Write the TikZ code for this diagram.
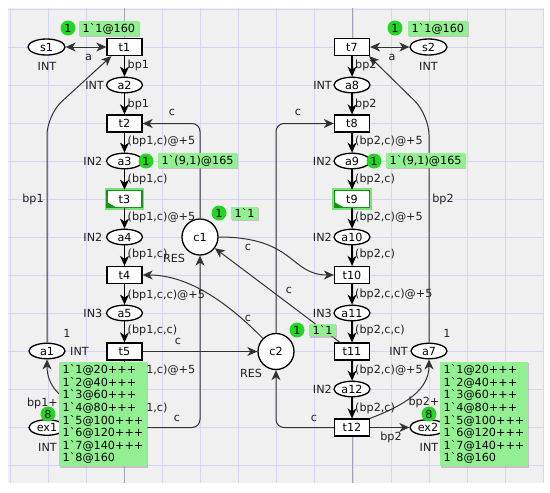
\documentclass[tikz,border=0pt]{standalone}
\usetikzlibrary{arrows.meta,shapes.geometric,shadows}
\font\cpnf="DejaVu Sans" at 11.2pt
\definecolor{bggray}{RGB}{240,240,240}
\definecolor{gridc}{RGB}{214,214,242}
\definecolor{pagec}{RGB}{165,165,185}
\definecolor{tokg}{RGB}{36,214,36}
\definecolor{labg}{RGB}{146,240,146}
\definecolor{arcc}{RGB}{50,50,50}
\definecolor{glowg}{RGB}{120,225,120}
\definecolor{enab}{RGB}{20,150,20}
\tikzset{
 cpnplace/.style={ellipse, draw=black, fill=white, line width=1.3pt, minimum width=36pt, minimum height=15.5pt, inner sep=0pt, font=\cpnf},
 cpntrans/.style={rectangle, draw=black, fill=white, line width=1.3pt, minimum width=35pt, minimum height=17pt, inner sep=0pt, font=\cpnf},
 cpnenab/.style={cpntrans, draw=enab, line width=1.6pt, preaction={draw=glowg, line width=4.5pt}},
 cpnres/.style={circle, draw=black, fill=white, line width=1.3pt, minimum size=36pt, inner sep=0pt, font=\cpnf},
 cpnarc/.style={draw=arcc, line width=1pt, -{Stealth[length=10pt,width=9pt,inset=3pt]}},
 cpncol/.style={cpnarc, draw=black, line width=1.3pt},
 cpnboth/.style={cpnarc, {Stealth[length=10pt,width=9pt,inset=3pt]}-{Stealth[length=10pt,width=9pt,inset=3pt]}},
 cpnlbl/.style={font=\cpnf, inner sep=0pt, text=black!88},
 cpntok/.style={circle, fill=tokg, minimum size=15pt, inner sep=0pt, font=\cpnf},
 cpnmark/.style={fill=labg, inner xsep=3.5pt, inner ysep=2pt, font=\cpnf, drop shadow={shadow xshift=1.2pt, shadow yshift=-1.2pt, fill=black!40, opacity=0.5}},
}
\begin{document}
\begin{tikzpicture}[x=1pt,y=-1pt]
\useasboundingbox (0,0) rectangle (550,493);
\fill[white] (0,0) rectangle (550,493);
\fill[bggray] (8,8) rectangle (543,483);
\foreach \k in {0,...,14} {\draw[gridc,line width=0.7pt] ({10+38.1*\k},8) -- ({10+38.1*\k},483);}
\foreach \k in {0,...,12} {\draw[gridc,line width=0.7pt] (8,{9+38*\k}) -- (543,{9+38*\k});}
\draw[pagec,line width=0.7pt] (124.5,8) -- (124.5,483);
\draw[pagec,line width=0.7pt] (352,8) -- (352,483);

% left column
\node[cpnplace, minimum width=37pt, minimum height=16pt] (s1) at (46.5,47) {s1};
\node[cpntrans] (t1) at (124.5,47) {t1};
\node[cpnplace] (a2) at (124.5,85) {a2};
\node[cpntrans] (t2) at (124.5,123.5) {t2};
\node[cpnplace] (a3) at (124.5,161) {a3};
\node[cpnenab] (t3) at (124.5,199) {t3};
\node[cpnplace] (a4) at (124.5,237) {a4};
\node[cpntrans] (t4) at (124.5,275) {t4};
\node[cpnplace] (a5) at (124.5,313) {a5};
\node[cpntrans] (t5) at (124.5,351.5) {t5};
\node[cpnplace] (a6) at (124.5,389) {};
\node[cpntrans] (t6) at (124.5,427.5) {};
\node[cpnplace] (a1) at (47,351) {a1};
\node[cpnplace] (ex1) at (47,427.5) {ex1};
% resources
\node[cpnres] (c1) at (200,237) {c1};
\node[cpnres] (c2) at (276,351.5) {c2};
% right column
\node[cpntrans] (t7) at (352,47) {t7};
\node[cpnplace, minimum width=37pt, minimum height=16pt] (s2) at (428.5,47) {s2};
\node[cpnplace] (a8) at (352,85) {a8};
\node[cpntrans] (t8) at (352,123.5) {t8};
\node[cpnplace] (a9) at (352,161) {a9};
\node[cpnenab] (t9) at (352,199) {t9};
\node[cpnplace] (a10) at (352,237) {a10};
\node[cpntrans] (t10) at (352,275) {t10};
\node[cpnplace] (a11) at (352,313) {a11};
\node[cpntrans] (t11) at (352,351.5) {t11};
\node[cpnplace] (a12) at (352,389) {a12};
\node[cpntrans] (t12) at (352,427.5) {t12};
\node[cpnplace] (a7) at (429,351) {a7};
\node[cpnplace] (ex2) at (428,427.5) {ex2};

% enabled marks
\fill[enab] ([shift={(1pt,1pt)}]t3.south west) -- ++(9pt,0pt) -- ++(-9pt,5pt) -- cycle;
\fill[enab] ([shift={(1pt,1pt)}]t9.south west) -- ++(9pt,0pt) -- ++(-9pt,5pt) -- cycle;

% column arcs
\draw[cpnboth] (s1) -- (t1);
\draw[cpncol] (t1) -- (a2);
\draw[cpncol] (a2) -- (t2);
\draw[cpncol] (t2) -- (a3);
\draw[cpncol] (a3) -- (t3);
\draw[cpncol] (t3) -- (a4);
\draw[cpncol] (a4) -- (t4);
\draw[cpncol] (t4) -- (a5);
\draw[cpncol] (a5) -- (t5);
\draw[cpncol] (t5) -- (a6);
\draw[cpncol] (a6) -- (t6);
\draw[cpnboth] (s2) -- (t7);
\draw[cpncol] (t7) -- (a8);
\draw[cpncol] (a8) -- (t8);
\draw[cpncol] (t8) -- (a9);
\draw[cpncol] (a9) -- (t9);
\draw[cpncol] (t9) -- (a10);
\draw[cpncol] (a10) -- (t10);
\draw[cpncol] (t10) -- (a11);
\draw[cpncol] (a11) -- (t11);
\draw[cpncol] (t11) -- (a12);
\draw[cpncol] (a12) -- (t12);

% other arcs
\draw[cpnarc, rounded corners=20pt] (a1.north) -- (47,115) -- ([xshift=5pt]t1.south west);
\draw[cpnarc, rounded corners=20pt] (a7.north) -- (429,115) -- ([xshift=-1pt]t7.south east);
\draw[cpnarc, rounded corners=8pt] (c1.north) |- (t2.east);
\draw[cpnarc, rounded corners=8pt] (c2.north) |- (t8.west);
\draw[cpnarc, rounded corners=8pt] (t6.east) -| (c1.south);
\draw[cpnarc, rounded corners=8pt] (t12.west) -| (c2.south);
\draw[cpnarc] (t5.east) -- (c2.west);
\draw[cpnarc] (c1.east) .. controls (295,237) and (290,275) .. (t10.west);
\draw[cpnarc] (c2.135) .. controls (230,305) and (190,275) .. (t4.east);
\draw[cpnarc] ([xshift=6pt]t11.north west) -- (c1);
\draw[cpnarc] (t12.east) -- (ex2.west);
\draw[cpnarc] (t6.west) -- (ex1.east);
\draw[cpnarc] (t12.north east) .. controls (405,405) and (429,390) .. (a7.south);
\draw[cpnarc] (t6.north west) .. controls (66,405) and (47,390) .. (a1.south);

% inscriptions left
\node[cpnlbl, anchor=west] (il1) at (127.5,65) {bp1};
\node[cpnlbl, anchor=west] (il2) at (127.5,104) {bp1};
\node[cpnlbl, anchor=west] (il3) at (127.5,141) {(bp1,c)@+5};
\node[cpnlbl, anchor=west] (il4) at (127.5,179) {(bp1,c)};
\node[cpnlbl, anchor=west] (il5) at (127.5,217) {(bp1,c)@+5};
\node[cpnlbl, anchor=west] (il6) at (127.5,254) {(bp1,c)};
\node[cpnlbl, anchor=west] (il7) at (127.5,295) {(bp1,c,c)@+5};
\node[cpnlbl, anchor=west] (il8) at (127.5,330) {(bp1,c,c)};
\node[cpnlbl, anchor=west] (il9) at (127.5,370) {(bp1,c)@+5};
\node[cpnlbl, anchor=west] (il10) at (127.5,408) {(bp1,c)};
% inscriptions right
\node[cpnlbl, anchor=west] (ir1) at (355,65) {bp2};
\node[cpnlbl, anchor=west] (ir2) at (355,104) {bp2};
\node[cpnlbl, anchor=west] (ir3) at (355,141) {(bp2,c)@+5};
\node[cpnlbl, anchor=west] (ir4) at (355,179) {(bp2,c)};
\node[cpnlbl, anchor=west] (ir5) at (355,217) {(bp2,c)@+5};
\node[cpnlbl, anchor=west] (ir6) at (355,254) {(bp2,c)};
\node[cpnlbl, anchor=west] (ir7) at (355,294) {(bp2,c,c)@+5};
\node[cpnlbl, anchor=west] (ir8) at (355,330) {(bp2,c,c)};
\node[cpnlbl, anchor=west] (ir9) at (355,370) {(bp2,c)@+5};
\node[cpnlbl, anchor=west] (ir10) at (355,408) {(bp2,c)};

% other labels left
\node[cpnlbl] (n1) at (47,66) {INT};
\node[cpnlbl] (n2) at (88.5,57) {a};
\node[cpnlbl, anchor=east] (n3) at (104,85) {INT};
\node[cpnlbl, anchor=east] (n4) at (102.5,161) {IN2};
\node[cpnlbl, anchor=east] (n5) at (102.5,237) {IN2};
\node[cpnlbl, anchor=east] (n6) at (102.5,313) {IN3};
\node[cpnlbl] (n7) at (33,199) {bp1};
\node[cpnlbl] (n8) at (67,333) {1};
\node[cpnlbl, anchor=west] (n9) at (70,351) {INT};
\node[cpnlbl] (n10) at (42.5,403) {bp1+};
\node[cpnlbl] (n11) at (47.5,447) {INT};
\node[cpnlbl] (n12) at (174,258) {RES};
\node[cpnlbl] (n13) at (172,112) {c};
\node[cpnlbl] (n14) at (248,247) {c};
\node[cpnlbl] (n15) at (289,290) {c};
\node[cpnlbl] (n16) at (248,318) {c};
\node[cpnlbl] (n17) at (178,341) {c};
\node[cpnlbl] (n18) at (177,418) {c};
\node[cpnlbl] (n19) at (251,373) {RES};
\node[cpnlbl] (n20) at (298,112) {c};
\node[cpnlbl] (n21) at (314,418) {c};
% other labels right
\node[cpnlbl] (r1) at (428.5,66) {INT};
\node[cpnlbl] (r2) at (392,57) {a};
\node[cpnlbl, anchor=east] (r3) at (332,85) {INT};
\node[cpnlbl, anchor=east] (r4) at (332,161) {IN2};
\node[cpnlbl, anchor=east] (r5) at (332,237) {IN2};
\node[cpnlbl, anchor=east] (r6) at (332,313) {IN3};
\node[cpnlbl, anchor=east] (r7) at (332,389) {IN2};
\node[cpnlbl] (r8) at (443,199) {bp2};
\node[cpnlbl] (r9) at (447,333) {1};
\node[cpnlbl, anchor=east] (r10) at (408,351) {INT};
\node[cpnlbl] (r11) at (424,402) {bp2+};
\node[cpnlbl] (r12) at (391,437) {bp2};
\node[cpnlbl] (r13) at (429,447) {INT};

% tokens and markings
\node[cpntok] (k1) at (68,28) {1};
\node[cpnmark, anchor=west] (m1) at (79,28.5) {1`1@160};
\node[cpntok] (k2) at (395,28) {1};
\node[cpnmark, anchor=west] (m2) at (408,28.5) {1`1@160};
\node[cpntok] (k3) at (146,161) {1};
\node[cpnmark, anchor=west] (m3) at (158,160.5) {1`(9,1)@165};
\node[cpntok] (k4) at (374,161) {1};
\node[cpnmark, anchor=west] (m4) at (386,160.5) {1`(9,1)@165};
\node[cpntok] (k5) at (219,213) {1};
\node[cpnmark, anchor=west] (m5) at (231,213.5) {1`1};
\node[cpntok] (k6) at (297,330) {1};
\node[cpnmark, anchor=west] (m6) at (309,330) {1`1};
\node[cpntok] (k7) at (48,414) {8};
\node[cpnmark, anchor=north west, align=left, font={\cpnf\baselineskip=12.6pt}, inner ysep=2.5pt] (m7) at (59,362) {1`1@20+++\\1`2@40+++\\1`3@60+++\\1`4@80+++\\1`5@100+++\\1`6@120+++\\1`7@140+++\\1`8@160};
\node[cpntok] (k8) at (429,414) {8};
\node[cpnmark, anchor=north west, align=left, font={\cpnf\baselineskip=12.6pt}, inner ysep=2.5pt] (m8) at (440,362) {1`1@20+++\\1`2@40+++\\1`3@60+++\\1`4@80+++\\1`5@100+++\\1`6@120+++\\1`7@140+++\\1`8@160};
\end{tikzpicture}
\end{document}
